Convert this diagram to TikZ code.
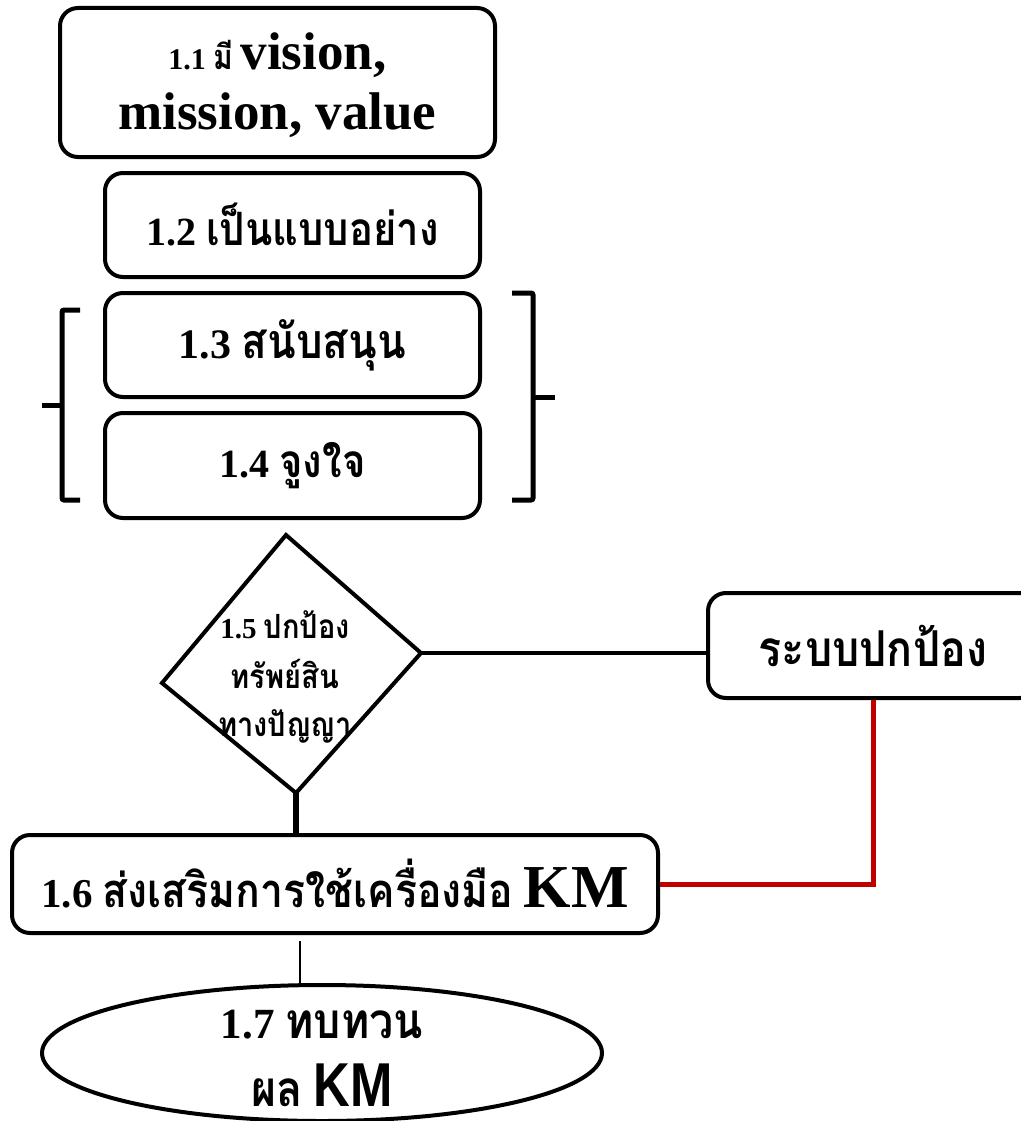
\documentclass[tikz,border=0pt]{standalone}
\usepackage{fontspec}
\usetikzlibrary{shapes.geometric}
\setmainfont{Liberation Serif}
\newfontfamily\thai[Script=Thai]{Loma}
\newfontfamily\sansbold{Liberation Sans}
\newcommand\thtext[1]{{\thai\scalebox{1}[1.15]{#1}}}
\newcommand\fs[1]{\fontsize{#1}{#1}\selectfont}

\tikzset{
  box/.style={draw, line width=4pt, rounded corners=18pt, align=center,
    inner sep=0pt, font=\bfseries},
  link/.style={line width=4pt},
  redlink/.style={line width=5pt, draw={rgb,255:red,192;green,0;blue,0}},
  bracket/.style={line width=5pt, rounded corners=2pt},
  label/.style={align=center, inner sep=0pt, font=\bfseries}
}

\begin{document}
\begin{tikzpicture}[x=1pt,y=-1pt]
\useasboundingbox[fill=white] (0,0) rectangle (1020,1121);

% stacked boxes
\node[box, minimum width=435, minimum height=149] (b11) at (277.5,82.5) {};
\node[label, anchor=base] (t11a) at (277.5,70)
  {{\fs{30}1.1 \thtext{มี} }{\fs{53}vision,}};
\node[label, anchor=base] (t11b) at (277.5,129) {\fs{53}mission, value};
\node[box, minimum width=375, minimum height=104] (b12) at (292.5,225)
  {\fs{40}1.2 \thtext{เป็นแบบอย่าง}};
\node[box, minimum width=375, minimum height=104] (b13) at (292.5,345)
  {\fs{42}1.3 \thtext{สนับสนุน}};
\node[box, minimum width=375, minimum height=105] (b14) at (292.5,465.5)
  {\fs{40}1.4 \thtext{จูงใจ}};

% brackets around 1.3 and 1.4
\draw[bracket] (80,310) -- (62,310) -- (62,500) -- (80,500);
\draw[bracket] (62,405) -- (42,405);
\draw[bracket] (512,293) -- (533,293) -- (533,500) -- (512,500);
\draw[bracket] (533,397) -- (555,397);

% decision diamond
\coordinate (dT) at (286,535);
\coordinate (dL) at (162,683);
\coordinate (dR) at (421,653);
\coordinate (dB) at (296,793);
\draw[line width=4pt, line join=miter] (dT) -- (dR) -- (dB) -- (dL) -- cycle;
\node[label, anchor=base] (t15a) at (285,638) {\fs{29}1.5 \thtext{ปกป้อง}};
\node[label, anchor=base] (t15b) at (285,688) {\fs{29}\thtext{ทรัพย์สิน}};
\node[label, anchor=base] (t15c) at (285,736) {\fs{29}\thtext{ทางปัญญา}};

% protection system box
\node[box, minimum width=330, minimum height=105] (sys) at (873,645.5)
  {\fs{43}\thtext{ระบบปกป้อง}};

% promotion box
\node[box, minimum width=646, minimum height=98] (b16) at (335,884)
  {\fs{41}1.6 \thtext{ส่งเสริมการใช้เครื่องมือ} {\fs{61}KM}};

% review ellipse
\node[ellipse, draw, line width=4pt, minimum width=560, minimum height=136,
  inner sep=0pt] (e17) at (322,1053) {};
\node[label, anchor=base] (t17a) at (322,1038) {\fs{43}1.7 \thtext{ทบทวน}};
\node[label, anchor=base] (t17b) at (322,1106)
  {\fs{43}\thtext{ผล} {\sansbold\bfseries\fs{62}\scalebox{0.82}[1]{KM}}};

% connectors
\draw[link] (dR) -- (sys.west |- dR);
\draw[redlink] (sys.south) |- (b16.east);
\draw[line width=6pt] (dB) -- (dB |- b16.north);
\coordinate (s16) at (300,941);
\draw[line width=2pt] (s16) -- (s16 |- e17.north);
\end{tikzpicture}
\end{document}
